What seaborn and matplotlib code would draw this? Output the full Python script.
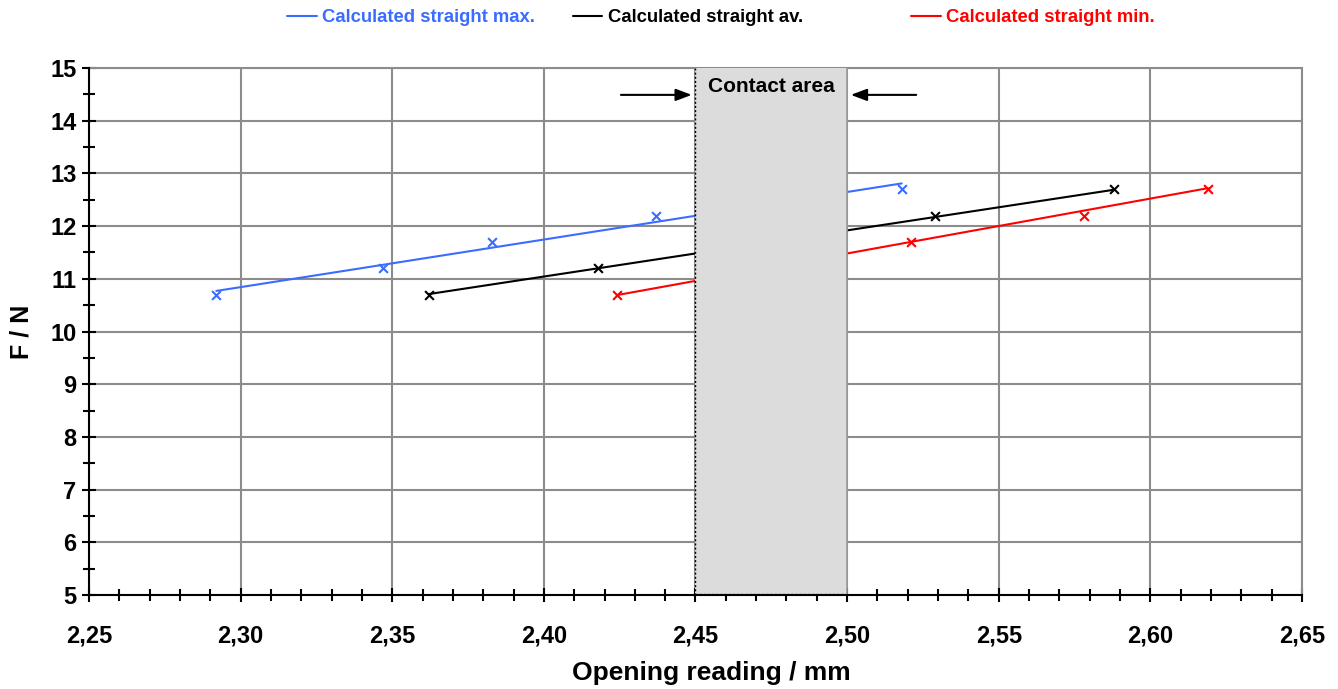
import matplotlib
matplotlib.use("Agg")
import matplotlib.pyplot as plt
import seaborn as sns
import pandas as pd
from matplotlib.lines import Line2D
from matplotlib.ticker import MultipleLocator, FuncFormatter

# ---- data ----
max_x = [2.292, 2.347, 2.383, 2.437, 2.518]
max_y = [10.7, 11.2, 11.7, 12.2, 12.7]
av_x = [2.362, 2.418, 2.529, 2.588]
av_y = [10.7, 11.2, 12.2, 12.7]
min_x = [2.424, 2.521, 2.578, 2.619]
min_y = [10.7, 11.7, 12.2, 12.7]

max_fit_x = [2.292, 2.518]
max_fit_y = [10.77, 12.81]
av_fit_x = [2.362, 2.588]
av_fit_y = [10.71, 12.69]
min_fit_x = [2.424, 2.619]
min_fit_y = [10.69, 12.72]

labels = ["Calculated straight max.", "Calculated straight av.", "Calculated straight min."]
colors = ["#3a6cff", "#000000", "#ff0000"]
contact_range = [2.45, 2.50]

sns.set_theme(style="white")
plt.rcParams['font.family'] = ['Liberation Sans', 'DejaVu Sans']
plt.rcParams['font.weight'] = 'bold'
plt.rcParams['text.color'] = 'black'
plt.rcParams['axes.labelcolor'] = 'black'
plt.rcParams['xtick.color'] = 'black'
plt.rcParams['ytick.color'] = 'black'

fig = plt.figure(figsize=(13.38, 6.89), dpi=100)
ax = fig.add_axes([0.0665, 0.1364, 0.9066, 0.7649])

series = [
    (max_x, max_y, max_fit_x, max_fit_y),
    (av_x, av_y, av_fit_x, av_fit_y),
    (min_x, min_y, min_fit_x, min_fit_y),
]
for (px, py, fx, fy), c in zip(series, colors):
    sns.lineplot(x=fx, y=fy, color=c, lw=1.5, ax=ax, zorder=3)
    sns.scatterplot(x=px, y=py, color=c, marker="x", s=40, linewidth=1.5, ax=ax, zorder=4)

# contact area
ax.axvspan(contact_range[0], contact_range[1], ymin=0, ymax=1, facecolor="#dcdcdc",
           edgecolor="none", zorder=5)
ax.plot([contact_range[0]] * 2, [5, 15], color="black", lw=1, ls=(0, (1.5, 1.5)), zorder=6)
ax.plot(contact_range, [5.02, 5.02], color="#555555", lw=1, ls=(0, (1.5, 1.5)), zorder=6)
ax.plot([contact_range[1]] * 2, [5, 15], color="#9a9a9a", lw=1.2, zorder=6)
ax.text(sum(contact_range) / 2, 14.64, "Contact area", ha="center", va="center",
        fontsize=15, fontweight="bold", color="black", zorder=7)
ax.annotate("", xy=(2.4497, 14.49), xytext=(2.4245, 14.49),
            arrowprops=dict(arrowstyle="-|>,head_length=0.8,head_width=0.3", color="black", lw=1.5),
            zorder=7)
ax.annotate("", xy=(2.5003, 14.49), xytext=(2.5237, 14.49),
            arrowprops=dict(arrowstyle="-|>,head_length=0.8,head_width=0.3", color="black", lw=1.5),
            zorder=7)

ax.set_xlim(2.25, 2.65)
ax.set_ylim(5, 15)
ax.xaxis.set_major_locator(MultipleLocator(0.05))
ax.xaxis.set_minor_locator(MultipleLocator(0.01))
ax.yaxis.set_major_locator(MultipleLocator(1))
ax.yaxis.set_minor_locator(MultipleLocator(0.5))
ax.xaxis.set_major_formatter(FuncFormatter(lambda v, p: f"{v:.2f}".replace(".", ",")))
ax.yaxis.set_major_formatter(FuncFormatter(lambda v, p: f"{v:.0f}"))

ax.grid(True, which="major", color="#8c8c8c", lw=1.5, zorder=0)
ax.set_axisbelow(True)
for s in ["top", "right"]:
    ax.spines[s].set_color("#8c8c8c")
    ax.spines[s].set_linewidth(1.5)
for s in ["left", "bottom"]:
    ax.spines[s].set_color("black")
    ax.spines[s].set_linewidth(1.5)
    ax.spines[s].set_zorder(8)

ax.tick_params(which="both", bottom=True, left=True, top=False, right=False)
ax.tick_params(which="major", direction="inout", length=10, width=1.5, color="black",
               labelsize=17, labelcolor="black")
ax.tick_params(which="minor", direction="inout", length=9, width=1.5, color="black")
ax.tick_params(axis="x", which="major", pad=16)
ax.tick_params(axis="y", which="major", pad=4)
for t in ax.get_xticklabels() + ax.get_yticklabels():
    t.set_fontweight("bold")

ax.set_xlabel("Opening reading / mm", fontsize=19, fontweight="bold", labelpad=10, color="black")
ax.xaxis.set_label_coords(0.513, -0.125)
ax.set_ylabel("F / N", fontsize=18, fontweight="bold", labelpad=12, color="black")

# legends
anchors = [0.2145, 0.428, 0.681]
for lab, c, a in zip(labels, colors, anchors):
    h = Line2D([], [], color=c, lw=1.5)
    fig.legend([h], [lab], loc="center left", bbox_to_anchor=(a, 0.974), frameon=False,
               handlelength=1.6, handletextpad=0.3, borderaxespad=0, borderpad=0,
               labelcolor=c, prop={"weight": "bold", "size": 13.3})

fig.savefig("out.png", dpi=100)
